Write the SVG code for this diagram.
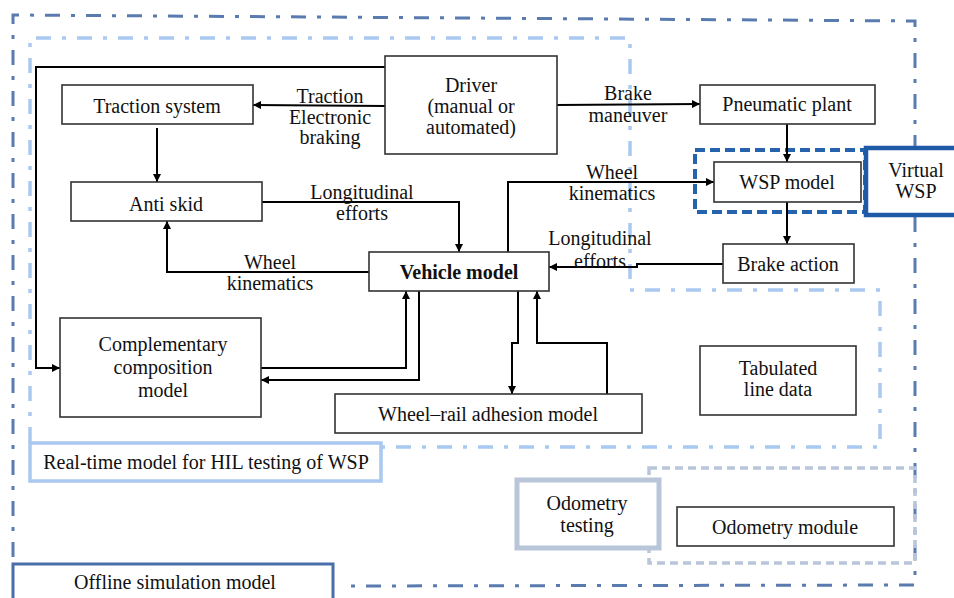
<svg xmlns="http://www.w3.org/2000/svg" width="954" height="598" viewBox="0 0 954 598">
<defs>
<marker id="ah" viewBox="0 0 10 10" refX="10" refY="5" markerWidth="4" markerHeight="4" orient="auto" markerUnits="strokeWidth">
<path d="M0,0 L10,5 L0,10 z" fill="#000"/>
</marker>
<style>
text{font-family:"Liberation Serif","Times New Roman",serif;font-size:20px;fill:#111;text-anchor:middle}
.node{fill:#fff;stroke:#333;stroke-width:1.6}
.c{fill:none;stroke:#000;stroke-width:2;marker-end:url(#ah)}
.outer{fill:none;stroke:#5a7bb0;stroke-width:3;stroke-dasharray:15 11 4 11}
.inner{fill:none;stroke:#a9c9f0;stroke-width:3.5;stroke-dasharray:15 11 4 11}
</style>
</defs>
<rect width="954" height="598" fill="#fff"/>
<g id="boundaries">
<path class="outer" d="M13,557 L13,15 L915,21 L915,585 L340,586"/>
<path class="inner" d="M30,442 L30,38 L630,38 L630,290 L880,290 L880,447 L381,447"/>
<rect x="695" y="150" width="170" height="62" fill="none" stroke="#2563ad" stroke-width="4" stroke-dasharray="10 5"/>
<rect x="649" y="468" width="266" height="95" fill="none" stroke="#b9c5d9" stroke-width="3.5" stroke-dasharray="8 5"/>
</g>

<g id="connectors">
<path class="c" d="M385,106 L253,105"/>
<path class="c" d="M385,67 L36,67 L36,368 L60,368"/>
<path class="c" d="M557,105 L700,104"/>
<path class="c" d="M157,128 L157,182"/>
<path class="c" d="M262,202 L459,202 L459,252"/>
<path class="c" d="M369,272 L167,272 L167,221"/>
<path class="c" d="M508,252 L508,182 L714,182"/>
<path class="c" d="M787,124 L787,162"/>
<path class="c" d="M787,202 L787,244"/>
<path class="c" d="M723,264 L637,264 L637,267 L549,267"/>
<path class="c" d="M261,368 L406,368 L406,291"/>
<path class="c" d="M419,291 L419,380 L261,380"/>
<path class="c" d="M518,291 L518,343 L512,343 L512,394"/>
<path class="c" d="M607,394 L607,343 L537,343 L537,291"/>
<text x="330" y="103">Traction</text>
<text x="330" y="124">Electronic</text>
<text x="330" y="144">braking</text>
<text x="628" y="100">Brake</text>
<text x="628" y="122">maneuver</text>
<text x="362" y="199">Longitudinal</text>
<text x="362" y="220">efforts</text>
<text x="270" y="269">Wheel</text>
<text x="270" y="290">kinematics</text>
<text x="612" y="179">Wheel</text>
<text x="612" y="200">kinematics</text>
<text x="600" y="245">Longitudinal</text>
<text x="600" y="268">efforts</text>
</g>

<g id="driver"><rect class="node" x="385" y="56" width="172" height="98"/>
<text x="471" y="92">Driver</text><text x="471" y="113">(manual or</text><text x="471" y="134">automated)</text></g>
<g id="traction"><rect class="node" x="62" y="85" width="191" height="39"/><text x="157" y="113">Traction system</text></g>
<g id="antiskid"><rect class="node" x="71" y="182" width="191" height="39"/><text x="166" y="211">Anti skid</text></g>
<g id="vehicle"><rect class="node" x="369" y="252" width="180" height="39"/><text x="459" y="279" font-weight="bold">Vehicle model</text></g>
<g id="pneumatic"><rect class="node" x="700" y="85" width="175" height="39"/><text x="787" y="111">Pneumatic plant</text></g>
<g id="wsp"><rect class="node" x="714" y="162" width="147" height="40"/><text x="787" y="189">WSP model</text></g>
<g id="brakeaction"><rect class="node" x="723" y="244" width="131" height="39"/><text x="788" y="271">Brake action</text></g>
<g id="complementary"><rect class="node" x="60" y="318" width="201" height="99"/>
<text x="163" y="351">Complementary</text><text x="163" y="374">composition</text><text x="163" y="397">model</text></g>
<g id="wheelrail"><rect class="node" x="335" y="394" width="307" height="39"/><text x="488" y="421">Wheel–rail adhesion model</text></g>
<g id="tabulated"><rect class="node" x="700" y="346" width="156" height="69"/>
<text x="778" y="375">Tabulated</text><text x="778" y="396">line data</text></g>
<g id="odomodule"><rect class="node" x="677" y="507" width="217" height="39"/><text x="785" y="534">Odometry module</text></g>

<g id="virtualwsp"><rect x="866" y="148" width="95" height="67" fill="#fff" stroke="#1f5aa6" stroke-width="4.5"/>
<text x="916" y="177">Virtual</text><text x="916" y="198">WSP</text></g>
<g id="odotesting"><rect x="517" y="480" width="142" height="68" fill="#fff" stroke="#b9c5d9" stroke-width="5"/>
<text x="587" y="510">Odometry</text><text x="587" y="532">testing</text></g>
<g id="realtime"><rect x="30" y="443" width="351" height="38" fill="#fff" stroke="#a9c9f0" stroke-width="3.5"/>
<text x="206" y="469">Real-time model for HIL testing of WSP</text></g>
<g id="offline"><rect x="13" y="564" width="320" height="50" fill="#fff" stroke="#4a6fa8" stroke-width="3"/>
<text x="175" y="589">Offline simulation model</text></g>
</svg>
